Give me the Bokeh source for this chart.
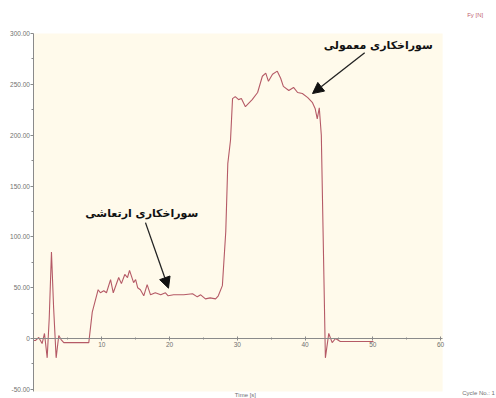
from bokeh.plotting import figure
from bokeh.models import (Range1d, FixedTicker, PrintfTickFormatter, Label,
                          Arrow, NormalHead, BoxAnnotation)
from bokeh.embed import file_html
from bokeh.resources import INLINE

# Force Fy [N] against time [s] for one drilling cycle
time_s = [0.0, 0.2, 0.7, 1.2, 1.55, 1.95, 2.25, 2.58, 2.9, 3.27, 3.66, 4.0, 4.4,
          5.5, 6.5, 7.5, 8.09, 8.6, 9.47, 9.8, 10.3, 10.7, 11.3, 11.7, 12.5,
          12.9, 13.4, 13.8, 14.1, 14.7, 15.0, 15.3, 15.7, 16.2, 16.7, 17.2,
          17.9, 18.7, 19.4, 19.8, 20.6, 22.1, 23.4, 24.1, 24.6, 25.3, 26.0,
          26.8, 27.2, 27.8, 28.3, 28.6, 29.0, 29.3, 29.7, 30.2, 30.6, 31.2,
          32.2, 33.0, 33.7, 34.2, 34.6, 35.2, 35.9, 36.4, 36.8, 37.6, 38.3,
          38.9, 39.6, 40.4, 41.1, 41.5, 41.8, 42.1, 42.4, 43.0, 43.5, 44.0,
          44.5, 45.2, 46.0, 47.5, 49.0, 50.1]
force_n = [-2, -2, 1, -5, 5, -19, 20, 85, 30, -19, 3, -1, -4,
           -4, -4, -4, -4, 26, 48, 45, 47, 45, 58, 45, 60,
           54, 63, 60, 67, 55, 58, 50, 48, 42, 53, 43,
           45, 43, 45, 42, 43, 43, 44, 41, 43, 39, 40,
           39, 42, 52, 105, 172, 195, 236, 238, 235, 236, 228,
           235, 242, 258, 261, 253, 260, 263, 256, 248, 244, 247,
           242, 241, 237, 232, 226, 216, 227, 200, -19, 5, -4,
           0, -3, -3, -3, -3, -3]

x_ticks = [10, 20, 30, 40, 50, 60]
x_minor = [5, 15, 25, 35, 45, 55]
y_ticks = [-50, 0, 50, 100, 150, 200, 250, 300]
y_minor = [-25, 25, 75, 125, 175, 225, 275]

label_normal = "سوراخکاری معمولی"
label_vibration = "سوراخکاری ارتعاشی"

# plotting area of the chart (time 0..60.3 s, force -52..300 N)
area_x = (0, 60.3)
area_y = (-52, 300)

# the frame fills the whole canvas; axes sit inside it at fixed positions
p = figure(width=496, height=398, output_backend="svg", toolbar_location=None,
           x_range=Range1d(-4.94, 68.25), y_range=Range1d(-59.0, 332.5),
           min_border=0, min_border_left=0, min_border_right=0,
           min_border_top=0, min_border_bottom=0)
p.background_fill_color = "white"
p.border_fill_color = "white"
p.outline_line_color = None
p.grid.visible = False

p.add_layout(BoxAnnotation(left=area_x[0], right=area_x[1],
                           bottom=area_y[0], top=area_y[1],
                           fill_color="#fffaeb", fill_alpha=1.0,
                           line_color=None, level="underlay"))

p.line(time_s, force_n, line_color="#b55a66", line_width=1.1)

axis_gray = "#8a8a8a"
label_gray = "#707070"
tick_font = "Liberation Sans"

# vertical axis at time zero
yax = p.yaxis[0]
yax.fixed_location = 0
yax.bounds = area_y
yax.ticker = FixedTicker(ticks=y_ticks, minor_ticks=y_minor)
yax.formatter = PrintfTickFormatter(format="%.2f")
yax.major_label_overrides = {0: "0"}
yax.axis_line_color = axis_gray
yax.major_tick_line_color = axis_gray
yax.minor_tick_line_color = axis_gray
yax.major_tick_out = 3
yax.major_tick_in = 0
yax.minor_tick_out = 2
yax.minor_tick_in = 0
yax.major_label_standoff = 1
yax.major_label_text_font = tick_font
yax.major_label_text_font_size = "6.5px"
yax.major_label_text_color = label_gray

# horizontal axis drawn through zero force
xax = p.xaxis[0]
xax.fixed_location = 0
xax.bounds = area_x
xax.ticker = FixedTicker(ticks=x_ticks, minor_ticks=x_minor)
xax.axis_line_color = axis_gray
xax.major_tick_line_color = axis_gray
xax.minor_tick_line_color = axis_gray
xax.major_tick_out = 2
xax.major_tick_in = 2
xax.minor_tick_out = 1
xax.minor_tick_in = 1
xax.major_label_standoff = 1
xax.major_label_text_font = tick_font
xax.major_label_text_font_size = "6.5px"
xax.major_label_text_color = label_gray

# annotations with arrows
fa_font = "DejaVu Sans"
p.add_layout(Label(x=50.8, y=288.5, text=label_normal, text_font=fa_font,
                   text_font_style="bold", text_font_size="11px",
                   text_align="center", text_baseline="middle",
                   text_color="#111111"))
p.add_layout(Label(x=15.9, y=123, text=label_vibration, text_font=fa_font,
                   text_font_style="bold", text_font_size="11px",
                   text_align="center", text_baseline="middle",
                   text_color="#111111"))
p.add_layout(Arrow(x_start=48.8, y_start=281, x_end=41.1, y_end=241,
                   line_color="#222222", line_width=1.3,
                   end=NormalHead(size=11, fill_color="#111111",
                                  line_color="#111111")))
p.add_layout(Arrow(x_start=16.45, y_start=114, x_end=19.85, y_end=49.5,
                   line_color="#222222", line_width=1.3,
                   end=NormalHead(size=11, fill_color="#111111",
                                  line_color="#111111")))

# captions around the plotting area
p.add_layout(Label(x=31.2, y=-56, text="Time [s]", text_font=tick_font,
                   text_font_size="6px", text_align="center",
                   text_baseline="middle", text_color=label_gray))
p.add_layout(Label(x=65.1, y=318, text="Fy [N]", text_font=tick_font,
                   text_font_size="6px", text_align="center",
                   text_baseline="middle", text_color="#c0606e"))
p.add_layout(Label(x=63.2, y=-54, text="Cycle No.: 1", text_font=tick_font,
                   text_font_size="6px", text_align="left",
                   text_baseline="middle", text_color=label_gray))

open("out.html", "w").write(file_html(p, INLINE))
